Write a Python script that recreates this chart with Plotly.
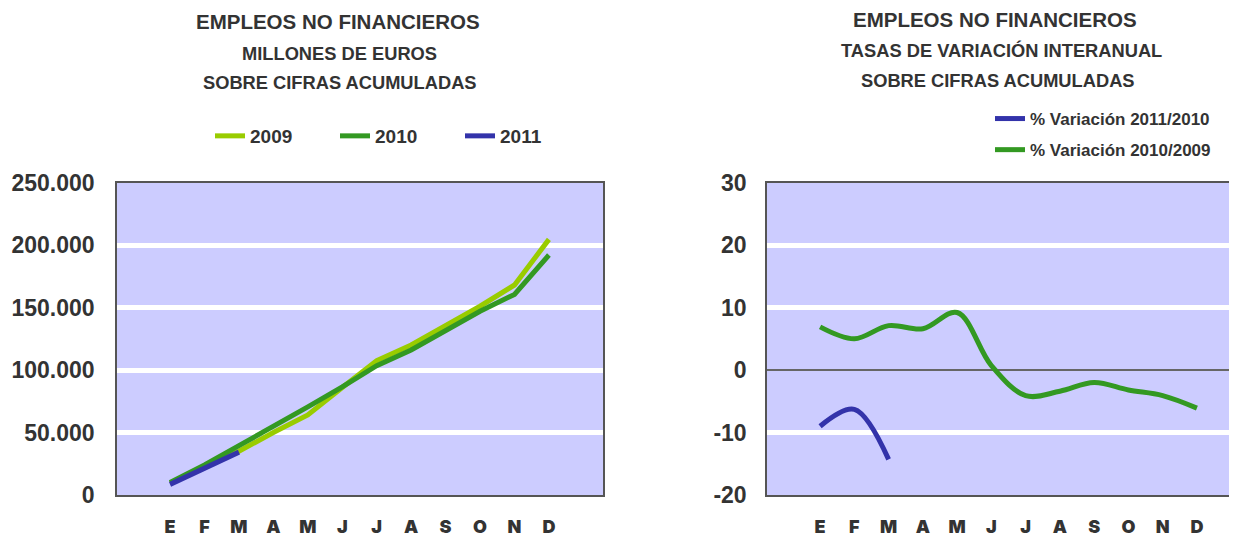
import plotly.graph_objects as go

months = ["E", "F", "M", "A", "M", "J", "J", "A", "S", "O", "N", "D"]
pos = list(range(len(months)))

# Left chart: millones de euros, cifras acumuladas
empleos_2009 = [9500, 22000, 35000, 50000, 64000, 86000, 107500, 120000, 135000, 151000, 168000, 204500]
empleos_2010 = [10000, 24000, 39500, 54500, 70500, 86500, 103500, 116000, 132000, 147000, 160500, 192000]
empleos_2011 = [8500, 21500, 34300]

# Right chart: tasas de variacion interanual
var_2011_2010 = [-9.0, -6.3, -14.3]
var_2010_2009 = [6.9, 5.0, 7.1, 6.6, 9.2, 0.7, -4.1, -3.4, -2.0, -3.2, -4.1, -6.1]

left_yticks = [0, 50000, 100000, 150000, 200000, 250000]
left_yticklabels = ["0", "50.000", "100.000", "150.000", "200.000", "250.000"]
right_yticks = [-20, -10, 0, 10, 20, 30]
right_yticklabels = ["-20", "-10", "0", "10", "20", "30"]

C2009 = "#99CC00"
C2010 = "#339922"
C2011 = "#3333AA"
TXT = "#333333"

# page has an 8px body margin; figure sized to fill the rest of the window
OFF = 8
W, H = 1237 - OFF, 540 - OFF


def px(x):
    return (x - OFF) / W


def py(y):
    return 1 - (y - OFF) / H


fig = go.Figure()

fig.add_trace(go.Scatter(x=pos, y=empleos_2009, name="2009", mode="lines",
                         line=dict(color=C2009, width=5), xaxis="x", yaxis="y", legend="legend"))
fig.add_trace(go.Scatter(x=pos, y=empleos_2010, name="2010", mode="lines",
                         line=dict(color=C2010, width=5), xaxis="x", yaxis="y", legend="legend"))
fig.add_trace(go.Scatter(x=pos[:len(empleos_2011)], y=empleos_2011, name="2011", mode="lines",
                         line=dict(color=C2011, width=5), xaxis="x", yaxis="y", legend="legend"))

fig.add_trace(go.Scatter(x=pos[:len(var_2011_2010)], y=var_2011_2010, name="% Variación 2011/2010",
                         mode="lines", line=dict(color=C2011, width=5, shape="spline", smoothing=1),
                         xaxis="x2", yaxis="y2", legend="legend2", legendgroup="a"))
fig.add_trace(go.Scatter(x=pos, y=var_2010_2009, name="% Variación 2010/2009",
                         mode="lines", line=dict(color=C2010, width=5, shape="spline", smoothing=1),
                         xaxis="x2", yaxis="y2", legend="legend2", legendgroup="b"))

ydom = [py(495), py(182.5)]
tickfont_y = dict(family="Liberation Sans, Arial", size=23, color=TXT, weight="bold")
tickfont_x = dict(family="Inter, DejaVu Sans", size=18, color=TXT, weight=900)

axis_common = dict(showline=True, linecolor="#555555", linewidth=1.5, mirror=True,
                   ticks="outside", tickcolor="rgba(0,0,0,0)", automargin=False)

fig.update_layout(
    template="none",
    width=W, height=H, autosize=False,
    margin=dict(l=0, r=0, t=0, b=0, pad=0),
    paper_bgcolor="white", plot_bgcolor="#CCCCFF",
    xaxis=dict(domain=[px(117), px(603)], range=[-1.54, 12.57], tickvals=pos, ticktext=months,
               showgrid=False, zeroline=False, ticklen=15, tickfont=tickfont_x, **axis_common),
    yaxis=dict(domain=ydom, range=[0, 250000], tickvals=left_yticks, ticktext=left_yticklabels,
               showgrid=True, gridcolor="white", gridwidth=5, zeroline=False,
               ticklen=16, tickfont=tickfont_y, **axis_common),
    xaxis2=dict(domain=[px(767), 1.0], range=[-1.55, 12.17], tickvals=pos, ticktext=months,
                showgrid=False, zeroline=False, ticklen=15, tickfont=tickfont_x, anchor="y2",
                **axis_common),
    yaxis2=dict(domain=ydom, range=[-20, 30], tickvals=right_yticks, ticktext=right_yticklabels,
                showgrid=True, gridcolor="white", gridwidth=5,
                zeroline=True, zerolinecolor="#666666", zerolinewidth=1.5,
                ticklen=14, tickfont=tickfont_y, anchor="x2", **axis_common),
    legend=dict(orientation="h", x=px(210), y=py(136), xanchor="left", yanchor="middle",
                font=dict(family="Liberation Sans", size=19, color=TXT, weight="bold"),
                entrywidth=80, entrywidthmode="pixels", bgcolor="rgba(0,0,0,0)", itemwidth=30),
    legend2=dict(orientation="v", x=px(990), y=py(101), xanchor="left", yanchor="top",
                 font=dict(family="Liberation Sans", size=17, color=TXT, weight="bold"),
                 tracegroupgap=6, bgcolor="rgba(0,0,0,0)", itemwidth=30),
    showlegend=True,
)

title_font1 = dict(family="Liberation Sans", size=20.5, color=TXT, weight="bold")
title_font2 = dict(family="Liberation Sans", size=18.3, color=TXT, weight="bold")

titles = [
    (338, 22, "EMPLEOS NO FINANCIEROS", title_font1),
    (339, 53, "MILLONES DE EUROS", title_font2),
    (340, 83, "SOBRE CIFRAS ACUMULADAS", title_font2),
    (995, 20, "EMPLEOS NO FINANCIEROS", title_font1),
    (1001, 50, "TASAS DE VARIACIÓN INTERANUAL", title_font2),
    (998, 80, "SOBRE CIFRAS ACUMULADAS", title_font2),
]
for x, y, t, f in titles:
    fig.add_annotation(x=px(x), y=py(y), xref="paper", yref="paper", text=t,
                       showarrow=False, font=f, xanchor="center", yanchor="middle")

fig.write_html("out.html")
